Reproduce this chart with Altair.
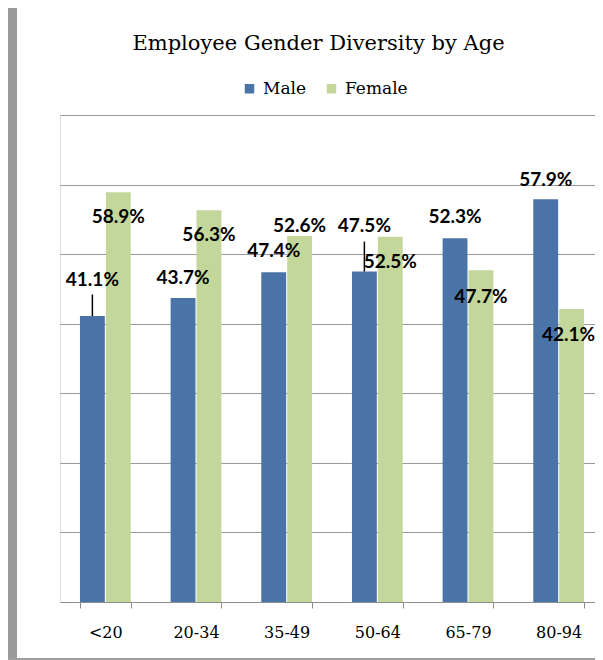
import altair as alt
import pandas as pd

ages = ["<20", "20-34", "35-49", "50-64", "65-79", "80-94"]
male = [41.1, 43.7, 47.4, 47.5, 52.3, 57.9]
female = [58.9, 56.3, 52.6, 52.5, 47.7, 42.1]
# where each data label sits (in % units, as placed in the original)
male_label_at = [46.3, 46.6, 50.4, 54.0, 55.3, 60.7]
female_label_at = [55.3, 52.8, 54.0, 48.9, 43.9, 38.4]
# leader lines from a label down to its bar
leader_age = ["<20", "50-64"]
leader_from = [44.2, 51.8]
leader_to = [41.1, 47.5]

rows = []
for i, a in enumerate(ages):
    rows.append({"age": a, "gender": "Male", "pct": male[i],
                 "label_at": male_label_at[i], "label": f"{male[i]:.1f}%"})
    rows.append({"age": a, "gender": "Female", "pct": female[i],
                 "label_at": female_label_at[i], "label": f"{female[i]:.1f}%"})
df = pd.DataFrame(rows)
leaders = pd.DataFrame({"age": leader_age, "gender": ["Male"] * len(leader_age),
                        "y1": leader_from, "y2": leader_to})

genders = ["Male", "Female"]
x = alt.X("age:N", sort=ages, title=None,
          scale=alt.Scale(paddingInner=0.44, paddingOuter=0.22, range=[0, 544]),
          axis=alt.Axis(labelAngle=0, labelFont="DejaVu Serif", labelFontSize=16,
                        labelColor="#000000", domainColor="#8c8c8c", tickColor="#8c8c8c",
                        tickSize=6, tickBand="extent", labelPadding=16, grid=False))
xo = alt.XOffset("gender:N", sort=genders, scale=alt.Scale(paddingInner=0.04))
y_scale = alt.Scale(domain=[0, 70], nice=False, zero=True)

bars = alt.Chart(df).mark_bar().encode(
    x=x,
    xOffset=xo,
    y=alt.Y("pct:Q", scale=y_scale,
            axis=alt.Axis(title=None, labels=False, ticks=False, domain=False, grid=True,
                          gridColor="#999999", values=[10, 20, 30, 40, 50, 60, 70])),
    color=alt.Color("gender:N", sort=genders,
                    scale=alt.Scale(domain=genders, range=["#4A74A8", "#C4D79B"]),
                    legend=alt.Legend(title=None, orient="none", direction="horizontal",
                                      legendX=181, legendY=-35, labelFont="DejaVu Serif",
                                      labelFontSize=17, symbolType="square", symbolSize=90,
                                      columnPadding=16, labelOffset=5, labelColor="#000000",
                                      symbolStrokeWidth=0)),
)

text_style = dict(font="Lato", fontSize=19, fontWeight="bold",
                  baseline="middle", align="center", color="#000000")
label_enc = dict(x=x, xOffset=xo, y=alt.Y("label_at:Q", scale=y_scale), text="label:N")
edge = (alt.datum.age == ages[-1]) & (alt.datum.gender == "Female")
labels = alt.Chart(df).transform_filter(~edge).mark_text(**text_style).encode(**label_enc)
labels_edge = alt.Chart(df).transform_filter(edge).mark_text(dx=-3, **text_style).encode(**label_enc)

lead = alt.Chart(leaders).mark_rule(color="#000000", strokeWidth=1.5).encode(
    x=x, xOffset=xo, y=alt.Y("y1:Q", scale=y_scale), y2="y2:Q")

frame_left = alt.Chart(pd.DataFrame({"k": [0]})).mark_rect(color="#9a9a9a").encode(
    x=alt.value(-52), x2=alt.value(-43), y=alt.value(-107), y2=alt.value(545))
frame_bottom = alt.Chart(pd.DataFrame({"k": [0]})).mark_rect(color="#a0a0a0").encode(
    x=alt.value(-52), x2=alt.value(560), y=alt.value(543), y2=alt.value(545))

chart = alt.layer(frame_left, frame_bottom, bars, labels, labels_edge, lead).properties(
    width=535, height=487,
    title=alt.TitleParams("Employee Gender Diversity by Age", font="DejaVu Serif",
                          fontSize=21, fontWeight="normal", color="#000000",
                          anchor="middle", dx=-9, offset=-46),
    autosize=alt.AutoSizeParams(type="none"),
    padding={"left": 52, "top": 107, "right": 0, "bottom": 58},
).configure_view(stroke=None).configure(background="white")

chart.save("out.html", embed_options={"renderer": "svg", "actions": False})
